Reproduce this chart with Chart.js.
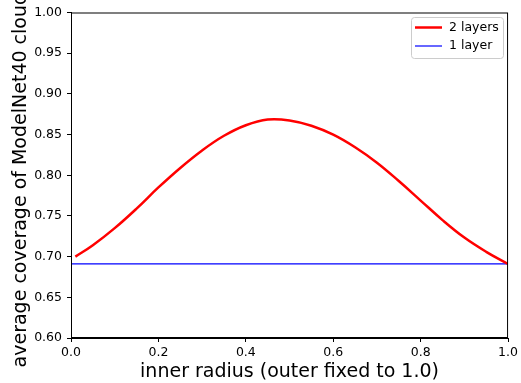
<!DOCTYPE html>
<html>
<head>
<meta charset="utf-8">
<script src="https://cdn.jsdelivr.net/npm/chart.js@4"></script>
<style>
  html, body { margin: 0; padding: 0; background: #fff; }
  #wrap { width: 521px; height: 383px; }
</style>
</head>
<body>
<div id="wrap"><canvas id="coverageChart" width="521" height="383"></canvas></div>
<script>
// inner radius values and average coverage
const innerRadius = [0.01, 0.05, 0.10, 0.15, 0.20, 0.25, 0.30, 0.35, 0.40, 0.45, 0.50,
                     0.55, 0.60, 0.65, 0.70, 0.75, 0.80, 0.85, 0.90, 0.95, 1.00];
const twoLayers = [0.700, 0.714, 0.735, 0.759, 0.785, 0.809, 0.8305, 0.8485, 0.8615, 0.8685, 0.8674,
                   0.8609, 0.8499, 0.8344, 0.8154, 0.7929, 0.7689, 0.7449, 0.7234, 0.7059, 0.6909];
const oneLayerX = [0.0, 1.0];
const oneLayer = [0.691, 0.691];
const xTicks = [0.0, 0.2, 0.4, 0.6, 0.8, 1.0];
const yTicks = [0.60, 0.65, 0.70, 0.75, 0.80, 0.85, 0.90, 0.95, 1.00];

const FONT = "'DejaVu Sans', sans-serif";

const framePlugin = {
    id: "frame",
    afterDatasetsDraw(chart) {
        const { ctx, chartArea: a } = chart;
        ctx.save();
        ctx.strokeStyle = "#000";
        ctx.lineWidth = 1;
        ctx.strokeRect(a.left + 0.5, a.top + 0.5, a.right - a.left - 1, a.bottom - a.top - 1);

        // legend box in the top right corner
        const bx = 411, by = 17, bw = 92, bh = 41, r = 3;
        ctx.fillStyle = "rgba(255,255,255,0.8)";
        ctx.strokeStyle = "#cccccc";
        ctx.beginPath();
        ctx.roundRect(bx + 0.5, by + 0.5, bw, bh, r);
        ctx.fill();
        ctx.stroke();

        ctx.font = "12.5px " + FONT;
        ctx.textBaseline = "middle";
        ctx.textAlign = "left";
        chart.data.datasets.forEach((ds, i) => {
            const y = by + 10.5 + i * 18.5;
            ctx.strokeStyle = ds.borderColor;
            ctx.lineWidth = ds.borderWidth;
            ctx.beginPath();
            ctx.moveTo(bx + 4, y);
            ctx.lineTo(bx + 31, y);
            ctx.stroke();
            ctx.fillStyle = "#000";
            ctx.fillText(ds.label, bx + 38, y);
        });
        ctx.restore();
    }
};

const ctx = document.getElementById("coverageChart").getContext("2d");
new Chart(ctx, {
    type: "line",
    data: {
        datasets: [
            {
                label: "2 layers",
                data: innerRadius.map((x, i) => ({ x: x, y: twoLayers[i] })),
                borderColor: "#ff0000",
                borderWidth: 2.5,
                pointRadius: 0,
                tension: 0.4,
                fill: false
            },
            {
                label: "1 layer",
                data: oneLayerX.map((x, i) => ({ x: x, y: oneLayer[i] })),
                borderColor: "#0000ff",
                borderWidth: 1.2,
                pointRadius: 0,
                fill: false
            }
        ]
    },
    options: {
        responsive: false,
        animation: false,
        layout: { padding: { top: 11, right: 12, left: 0, bottom: 0 } },
        plugins: {
            legend: { display: false },
            tooltip: { enabled: false }
        },
        scales: {
            x: {
                type: "linear",
                min: 0,
                max: 1,
                afterBuildTicks: (scale) => { scale.ticks = xTicks.map(v => ({ value: v })); },
                afterFit: (scale) => { scale.height = 45; },
                grid: { display: true, drawOnChartArea: false, drawTicks: true, tickLength: 4, color: "#000" },
                border: { display: true, color: "#000" },
                ticks: {
                    color: "#000",
                    padding: 3,
                    maxRotation: 0,
                    font: { family: FONT, size: 12.5 },
                    callback: (v) => Number(v).toFixed(1)
                },
                title: {
                    display: true,
                    text: "inner radius (outer fixed to 1.0)",
                    color: "#000",
                    font: { family: FONT, size: 19 },
                    padding: { top: 0, bottom: 0 }
                }
            },
            y: {
                min: 0.6,
                max: 1.0,
                afterBuildTicks: (scale) => { scale.ticks = yTicks.map(v => ({ value: v })); },
                afterFit: (scale) => { scale.width = 71; },
                grid: { display: true, drawOnChartArea: false, drawTicks: true, tickLength: 4, color: "#000" },
                border: { display: true, color: "#000" },
                ticks: {
                    color: "#000",
                    padding: 5,
                    font: { family: FONT, size: 12.5 },
                    callback: (v) => Number(v).toFixed(2)
                },
                title: {
                    display: true,
                    text: "average coverage of ModelNet40 clouds",
                    color: "#000",
                    font: { family: FONT, size: 19 },
                    padding: { top: 10, bottom: 0 }
                }
            }
        }
    },
    plugins: [framePlugin]
});
</script>
</body>
</html>
